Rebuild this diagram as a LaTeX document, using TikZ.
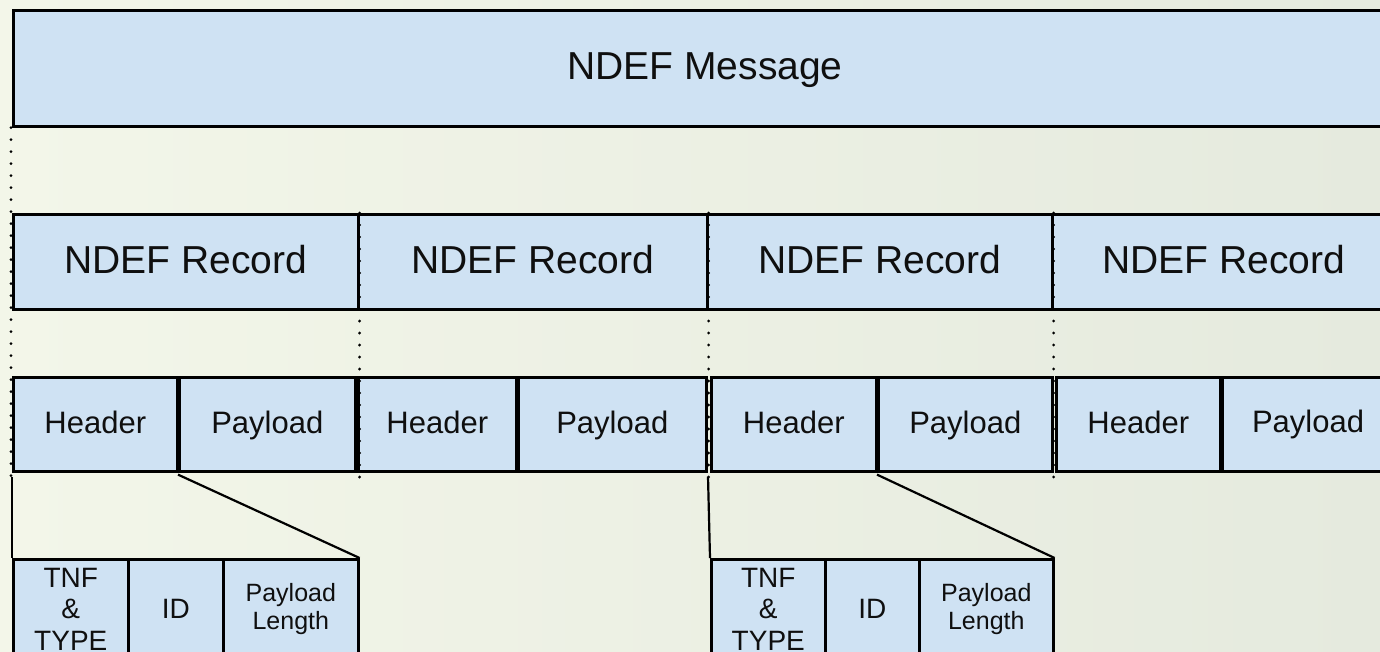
\documentclass[tikz,border=0pt]{standalone}
\usepackage{fontspec}
\setmainfont{Liberation Sans}
\definecolor{bgl}{RGB}{243,246,233}
\definecolor{bgr}{RGB}{229,234,222}
\definecolor{boxfill}{RGB}{207,226,243}
\definecolor{ink}{RGB}{15,15,15}
\begin{document}
\begin{tikzpicture}[x=1pt,y=-1pt,
  cell/.style={draw=black, fill=boxfill, line width=2.6pt, inner sep=0pt,
    anchor=north west, align=center, text=ink},
  big/.style={font=\fontsize{39}{44}\selectfont, text height=30pt, text depth=6pt},
  mid/.style={font=\fontsize{31}{36}\selectfont, text height=23pt, text depth=5pt},
  small/.style={font=\fontsize{28}{31.5}\selectfont},
  tiny/.style={font=\fontsize{25}{28}\selectfont},
  dotline/.style={line width=3.2pt, dash pattern=on 0pt off 12pt, line cap=round},
  link/.style={line width=2.2pt, draw=black}]
\useasboundingbox (0,0) rectangle (1380,651);
\clip (0,0) rectangle (1380,651);
\shade[left color=bgl, right color=bgr] (0,0) rectangle (1380,651);

% message
\node[cell, minimum width=1390pt, minimum height=116pt] (msg) at (12,9) {};
\node[big, text=ink] (msgt) at (705,67) {NDEF Message};

% records
\node[cell, big, minimum width=345pt, minimum height=95pt] (R1) at (12,213) {NDEF Record};
\node[cell, big, minimum width=349pt, minimum height=95pt] (R2) at (357,213) {NDEF Record};
\node[cell, big, minimum width=345pt, minimum height=95pt] (R3) at (706,213) {NDEF Record};
\node[cell, minimum width=345pt, minimum height=95pt] (R4) at (1051,213) {};
\node[big, text=ink] (R4t) at (1224,261) {NDEF Record};

% headers / payloads
\node[cell, mid, minimum width=164pt, minimum height=94pt] (H1) at (12,376) {Header};
\node[cell, mid, minimum width=176pt, minimum height=94pt] (P1) at (178,376) {Payload};
\node[cell, mid, minimum width=158pt, minimum height=94pt] (H2) at (357,376) {Header};
\node[cell, mid, minimum width=188pt, minimum height=94pt] (P2) at (517,376) {Payload};
\node[cell, mid, minimum width=165pt, minimum height=94pt] (H3) at (710,376) {Header};
\node[cell, mid, minimum width=174pt, minimum height=94pt] (P3) at (877,376) {Payload};
\node[cell, mid, minimum width=164pt, minimum height=94pt] (H4) at (1055,376) {Header};
\node[cell, minimum width=180pt, minimum height=94pt] (P4) at (1221,376) {};
\node[mid, text=ink] (P4t) at (1308,423) {Payload};

% header detail
\node[cell, small, minimum width=115pt, minimum height=100pt] (T1) at (12,558) {TNF\\\&\\TYPE};
\node[cell, small, minimum width=95pt, minimum height=100pt] (I1) at (127,558) {ID};
\node[cell, tiny, minimum width=135pt, minimum height=100pt] (L1) at (222,558) {Payload\\Length};
\node[cell, small, minimum width=114pt, minimum height=100pt] (T2) at (710,558) {TNF\\\&\\TYPE};
\node[cell, small, minimum width=94pt, minimum height=100pt] (I2) at (824,558) {ID};
\node[cell, tiny, minimum width=134pt, minimum height=100pt] (L2) at (918,558) {Payload\\Length};

% dotted guides
\draw[dotline] ([xshift=-1pt]msg.south west) -- ([xshift=-1pt,yshift=-5pt]H1.south west);
\draw[dotline] (R1.north east) -- ([yshift=-5pt]R1.north east |- H2.south west);
\draw[dotline] (R2.north east) -- ([yshift=-5pt]R2.north east |- H3.south west);
\draw[dotline] (R3.north east) -- ([yshift=-5pt]R3.north east |- H4.south west);

% expansion links
\draw[link] ([yshift=-4pt]H1.south west) -- (T1.north west);
\draw[link] ([yshift=-2pt]P1.south west) -- (L1.north east);
\draw[link] ([xshift=-2pt,yshift=-4pt]H3.south west) -- (T2.north west);
\draw[link] ([yshift=-2pt]P3.south west) -- (L2.north east);
\end{tikzpicture}
\end{document}
